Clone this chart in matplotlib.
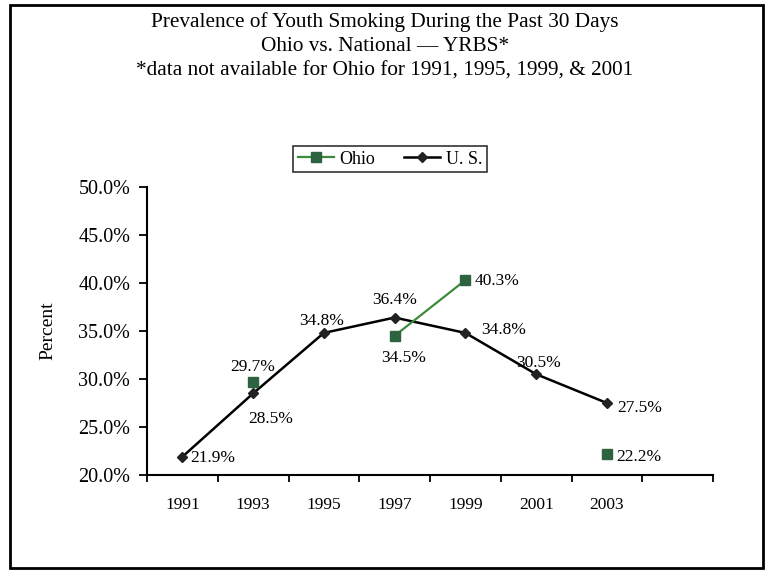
#######################
# Prevalence of youth smoking, Ohio vs. national (YRBS)
# Line chart rebuilt from a scanned report page
#######################

import matplotlib
matplotlib.use('Agg')
import matplotlib.pyplot as plt
from matplotlib.patches import Rectangle
from matplotlib.ticker import FuncFormatter
import numpy as np

# Data (percent)
years = ['1991', '1993', '1995', '1997', '1999', '2001', '2003']
us_values = [21.9, 28.5, 34.8, 36.4, 34.8, 30.5, 27.5]
# Ohio points that are missing in the source are NaN
ohio_values = [np.nan, 29.7, np.nan, 34.5, 40.3, np.nan, 22.2]

title_lines = ['Prevalence of Youth Smoking During the Past 30 Days',
               'Ohio vs. National \u2014 YRBS*',
               '*data not available for Ohio for 1991, 1995, 1999, & 2001']

# label offsets in pixels (dx, dy, ha) for each point
us_offsets = [(8, -1, 'left'), (18, -26, 'center'), (-2, 12, 'center'), (0, 18, 'center'),
              (16, 3, 'left'), (2, 11, 'center'), (10, -5, 'left')]
ohio_offsets = [None, (0, 15, 'center'), None, (9, -22, 'center'), (9, -1, 'left'),
                None, (9, -3, 'left')]

plt.rcParams['font.family'] = ['Liberation Serif', 'DejaVu Serif']

OHIO_LINE = '#3f8a3a'
OHIO_MARK = '#2e6340'

fig = plt.figure(figsize=(7.67, 5.73), dpi=100)

#    Border round the whole page
fig.patches.append(Rectangle((10/767, 5/573), 753/767, 563/573, transform=fig.transFigure,
                             fill=False, edgecolor='black', linewidth=2))

#    Title, three centred lines
for i, line in enumerate(title_lines):
    fig.text(385/767, 1 - (22 + i*24.5)/573, line, ha='center', va='center', fontsize=15.3)

ax = fig.add_axes([147/767, 1 - 475/573, 566/767, 288/573])
x = np.arange(len(years))

ax.plot(x, us_values, color='black', linewidth=1.8, marker='D', markersize=5,
        markerfacecolor='#222222', markeredgecolor='#222222', label='U. S.')
ax.plot(x, ohio_values, color=OHIO_LINE, linewidth=1.6, marker='s', markersize=7,
        markerfacecolor=OHIO_MARK, markeredgecolor=OHIO_MARK, label='Ohio')

#    Data labels
for xi, v, off in zip(x, us_values, us_offsets):
    ax.annotate('%.1f%%' % v, (xi, v), xytext=(off[0], off[1]), textcoords='offset pixels',
                ha=off[2], va='center', fontsize=12.5)
for xi, v, off in zip(x, ohio_values, ohio_offsets):
    if off is None or np.isnan(v):
        continue
    ax.annotate('%.1f%%' % v, (xi, v), xytext=(off[0], off[1]), textcoords='offset pixels',
                ha=off[2], va='center', fontsize=12.5)

#    Axes styling
ax.set_xlim(-0.5, 7.5)
ax.set_ylim(20, 50)
ax.set_yticks(np.arange(20, 50.1, 5))
ax.yaxis.set_major_formatter(FuncFormatter(lambda v, p: '%.1f%%' % v))
ax.set_xticks(x)
ax.set_xticklabels(years)
ax.set_xticks(np.arange(-0.5, 7.6, 1), minor=True)
ax.tick_params(axis='x', which='major', length=0, pad=16, labelsize=12.5)
ax.tick_params(axis='x', which='minor', length=5, width=1.3, direction='out')
ax.tick_params(axis='y', length=6, width=1.3, direction='out', labelsize=14.5, pad=6)
for side in ['top', 'right']:
    ax.spines[side].set_visible(False)
for side in ['left', 'bottom']:
    ax.spines[side].set_linewidth(1.5)
ax.set_ylabel('Percent', fontsize=14, labelpad=16)

#    Legend, Ohio first
handles, labels = ax.get_legend_handles_labels()
leg = fig.legend(handles[::-1], labels[::-1], loc='center', bbox_to_anchor=(390/767, 1 - 159/573),
                 ncol=2, frameon=True, fancybox=False, fontsize=13, handlelength=2.0,
                 columnspacing=1.6, borderpad=0.25, handletextpad=0.3)
leg.get_frame().set_edgecolor('black')
leg.get_frame().set_linewidth(1.2)

fig.savefig('out.png', dpi=100)
